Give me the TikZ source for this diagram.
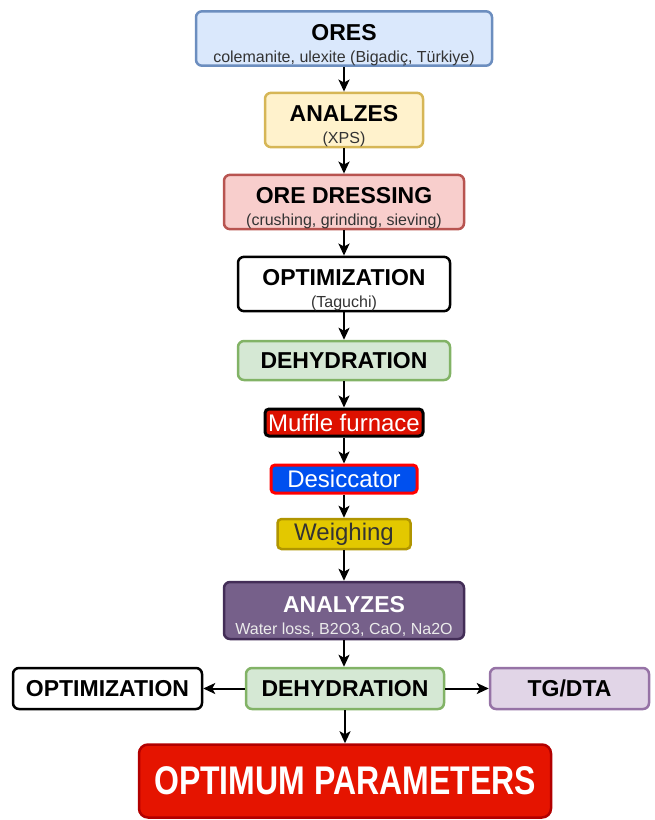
\documentclass[tikz,border=0pt]{standalone}
\usepackage{fontspec}
\setmainfont{Liberation Sans}
\usepackage{graphicx}
\usetikzlibrary{arrows.meta}
\definecolor{bluef}{HTML}{DAE8FC}\definecolor{blued}{HTML}{6C8EBF}
\definecolor{yelf}{HTML}{FFF2CC}\definecolor{yeld}{HTML}{D6B656}
\definecolor{redf}{HTML}{F8CECC}\definecolor{redd}{HTML}{B85450}
\definecolor{grnf}{HTML}{D5E8D4}\definecolor{grnd}{HTML}{82B366}
\definecolor{mufff}{HTML}{DD1100}
\definecolor{desf}{HTML}{0050EF}\definecolor{desd}{HTML}{FF0000}
\definecolor{weif}{HTML}{E3C800}\definecolor{weid}{HTML}{B09500}
\definecolor{purf}{HTML}{76608A}\definecolor{purd}{HTML}{432D57}
\definecolor{tgf}{HTML}{E1D5E7}\definecolor{tgd}{HTML}{9673A6}
\definecolor{optf}{HTML}{E51400}\definecolor{optd}{HTML}{B20000}
\definecolor{subgray}{HTML}{333333}
\newcommand\mytitle[1]{{\fontsize{23}{22}\selectfont\bfseries #1}}
\newcommand\mytwo[2]{\rule{0pt}{29pt}\mytitle{#1}\\ {\fontsize{16}{22}\selectfont #2}}
\begin{document}
\begin{tikzpicture}[x=1pt,y=-1pt,
  box/.style={rounded corners=6pt, line width=2.5pt, align=center, inner sep=0pt, font=\fontsize{16}{22}\selectfont},
  arr/.style={-{Stealth[length=12pt,width=11pt,inset=3pt]}, line width=2pt},
  plain/.style={font=\fontsize{24}{24}\selectfont}]
\useasboundingbox (0,0) rectangle (654,820);
\node[box, fill=bluef, draw=blued, minimum width=296pt, minimum height=53pt] (ores) at (344,38.5)
  {\mytwo{ORES}{\color{subgray}colemanite, ulexite (Bigadiç, Türkiye)}};
\node[box, fill=yelf, draw=yeld, minimum width=158pt, minimum height=52pt] (anal) at (344,120)
  {\mytwo{ANALZES}{\color{subgray}(XPS)}};
\node[box, fill=redf, draw=redd, minimum width=240pt, minimum height=52pt] (dress) at (344,202)
  {\mytwo{ORE DRESSING}{\color{subgray}(crushing, grinding, sieving)}};
\node[box, fill=white, draw=black, minimum width=212pt, minimum height=52pt] (opt1) at (344,284)
  {\mytwo{OPTIMIZATION}{\color{subgray}(Taguchi)}};
\node[box, fill=grnf, draw=grnd, minimum width=212pt, minimum height=39pt] (dehy1) at (344,360.5)
  {\mytitle{DEHYDRATION}};
\node[box, fill=mufff, draw=black, line width=3pt, rounded corners=4pt, minimum width=158pt, minimum height=27pt, text=white, plain] (muff) at (344,422.5)
  {Muffle furnace};
\node[box, fill=desf, draw=desd, line width=3pt, rounded corners=4pt, minimum width=146pt, minimum height=28pt, text=white, plain] (desi) at (344,479)
  {Desiccator};
\node[box, fill=weif, draw=weid, rounded corners=4pt, minimum width=133pt, minimum height=30pt, text=subgray, plain] (weig) at (344,534)
  {Weighing};
\node[box, fill=purf, draw=purd, minimum width=240pt, minimum height=57pt, text=white] (anal2) at (344,610.5)
  {\mytwo{ANALYZES}{\color{white!92!black}Water loss, B2O3, CaO, Na2O}};
\node[box, fill=grnf, draw=grnd, minimum width=198pt, minimum height=41pt] (dehy2) at (345,688.5)
  {\mytitle{DEHYDRATION}};
\node[box, fill=white, draw=black, minimum width=189pt, minimum height=41pt] (opt2) at (107.5,688.5)
  {\mytitle{OPTIMIZATION}};
\node[box, fill=tgf, draw=tgd, minimum width=159pt, minimum height=41pt] (tg) at (569.5,688.5)
  {\mytitle{TG/DTA}};
\node[box, fill=optf, draw=optd, rounded corners=9pt, minimum width=412pt, minimum height=73pt, text=white] (optim) at (345,781)
  {\scalebox{0.8}[1]{\fontsize{40}{40}\selectfont\bfseries OPTIMUM PARAMETERS}};
\draw[arr] (ores) -- (anal);
\draw[arr] (anal) -- (dress);
\draw[arr] (dress) -- (opt1);
\draw[arr] (opt1) -- (dehy1);
\draw[arr] (dehy1) -- (muff);
\draw[arr] (muff) -- (desi);
\draw[arr] (desi) -- (weig);
\draw[arr] (weig) -- (anal2);
\draw[arr] (anal2.south) -- (anal2.south |- dehy2.north);
\draw[arr] (dehy2) -- (opt2);
\draw[arr] (dehy2) -- (tg);
\draw[arr] (dehy2.south) -- (dehy2.south |- optim.north);
\end{tikzpicture}
\end{document}
